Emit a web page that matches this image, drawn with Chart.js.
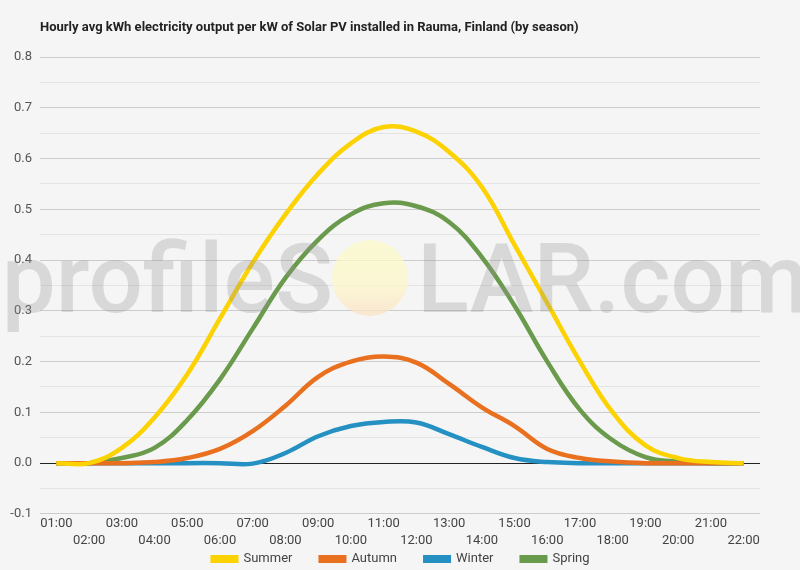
<!DOCTYPE html>
<html>
<head>
<meta charset="utf-8">
<script src="https://cdn.jsdelivr.net/npm/chart.js@4.4.0/dist/chart.umd.min.js"></script>
<style>
  html, body { margin: 0; padding: 0; background: #f5f5f5; }
  #wrap { width: 800px; height: 570px; }
</style>
</head>
<body>
<div id="wrap"><canvas id="chart" width="800" height="570"></canvas></div>
<script>
// hours on the x axis
const hours = ["01:00","02:00","03:00","04:00","05:00","06:00","07:00","08:00","09:00","10:00","11:00",
               "12:00","13:00","14:00","15:00","16:00","17:00","18:00","19:00","20:00","21:00","22:00"];

// avg kWh per kW installed
const summer = [0, 0, 0.03, 0.09, 0.175, 0.285, 0.395, 0.49, 0.57, 0.63, 0.662, 0.653, 0.613, 0.544, 0.43, 0.315, 0.2, 0.1, 0.035, 0.01, 0.002, 0];
const autumn = [0, 0, 0, 0.002, 0.01, 0.028, 0.063, 0.113, 0.17, 0.2, 0.21, 0.198, 0.156, 0.11, 0.073, 0.028, 0.01, 0.003, 0, 0, 0, 0];
const winter = [0, 0, 0, 0, 0, 0, -0.001, 0.02, 0.053, 0.073, 0.081, 0.08, 0.057, 0.032, 0.01, 0.002, 0, 0, 0, 0, 0, 0];
const spring = [0, 0, 0.01, 0.03, 0.085, 0.165, 0.265, 0.365, 0.44, 0.49, 0.512, 0.506, 0.475, 0.406, 0.31, 0.2, 0.105, 0.045, 0.012, 0.003, 0, 0];

const seasonNames = ["Summer", "Autumn", "Winter", "Spring"];
const seasonColors = ["#fcd200", "#e8701f", "#2591c3", "#6a9a4b"];

const titleText = "Hourly avg kWh electricity output per kW of Solar PV installed in Rauma, Finland (by season)";
const yMin = -0.1, yMax = 0.8;

function mkSet(i, vals) {
    return {
        label: seasonNames[i],
        data: vals,
        borderColor: seasonColors[i],
        backgroundColor: seasonColors[i],
        borderWidth: 4.5,
        pointRadius: 0,
        tension: 0.4,
        fill: false
    };
}

// title, watermark and legend drawn by hand
const extras = {
    id: 'extras',
    afterDatasetsDraw(chart) {
        const ctx = chart.ctx;
        ctx.save();
        ctx.font = "500 96px Roboto";
        ctx.fillStyle = "rgba(150,150,150,0.3)";
        ctx.textBaseline = "alphabetic";
        ctx.textAlign = "right";
        ctx.fillText("profileS", 333, 312);
        ctx.textAlign = "left";
        ctx.fillText("LAR.com", 417, 312);
        const g = ctx.createLinearGradient(0, 240, 0, 316);
        g.addColorStop(0, "rgba(252,250,200,0.75)");
        g.addColorStop(0.6, "rgba(252,246,200,0.75)");
        g.addColorStop(1, "rgba(250,225,195,0.75)");
        ctx.fillStyle = g;
        ctx.beginPath();
        ctx.arc(370, 278, 38, 0, Math.PI * 2);
        ctx.fill();
        ctx.restore();
    },
    afterDraw(chart) {
        const ctx = chart.ctx;
        ctx.save();
        ctx.font = "bold 13px Roboto";
        ctx.fillStyle = "#222";
        ctx.textBaseline = "middle";
        ctx.textAlign = "left";
        ctx.fillText(titleText, 40, 28);

        ctx.font = "13px Roboto";
        let widths = seasonNames.map(n => 28 + 5 + ctx.measureText(n).width);
        const gap = 26;
        let total = widths.reduce((a, b) => a + b, 0) + gap * (widths.length - 1);
        let x = 400 - total / 2;
        const y = 559;
        seasonNames.forEach((n, i) => {
            ctx.fillStyle = seasonColors[i];
            ctx.fillRect(x, y - 4, 28, 8);
            ctx.fillStyle = "#444";
            ctx.fillText(n, x + 33, y);
            x += widths[i] + gap;
        });
        ctx.restore();
    }
};

const ctx = document.getElementById('chart').getContext('2d');
new Chart(ctx, {
    type: 'line',
    data: {
        labels: hours,
        datasets: [mkSet(0, summer), mkSet(1, autumn), mkSet(2, winter), mkSet(3, spring)]
    },
    options: {
        responsive: false,
        animation: false,
        layout: { padding: { top: 57, right: 40, bottom: 19, left: 0 } },
        plugins: { legend: { display: false }, title: { display: false }, tooltip: { enabled: false } },
        scales: {
            x: {
                offset: true,
                grid: { display: false, drawTicks: false },
                border: { display: false },
                ticks: {
                    autoSkip: false,
                    maxRotation: 0,
                    padding: 1,
                    color: "#444",
                    font: { family: "Roboto", size: 13, lineHeight: 1.35 },
                    callback: function(v, i) {
                        const lab = hours[i];
                        return i % 2 === 0 ? [lab, ""] : ["", lab];
                    }
                }
            },
            y: {
                min: yMin,
                max: yMax,
                afterFit(scale) { scale.width = 40; },
                border: { display: false },
                grid: {
                    drawTicks: false,
                    lineWidth: 1,
                    color(c) {
                        const v = Math.round(c.tick.value * 100);
                        if (v === 0) return "#222";
                        return v % 10 === 0 ? "#cccccc" : "#e4e4e4";
                    }
                },
                ticks: {
                    stepSize: 0.05,
                    padding: 8,
                    color: "#555",
                    font: { family: "Roboto", size: 13 },
                    callback(v) {
                        const r = Math.round(v * 100);
                        return r % 10 === 0 ? (r / 100).toFixed(1) : "";
                    }
                }
            }
        }
    },
    plugins: [extras]
});
</script>
</body>
</html>
